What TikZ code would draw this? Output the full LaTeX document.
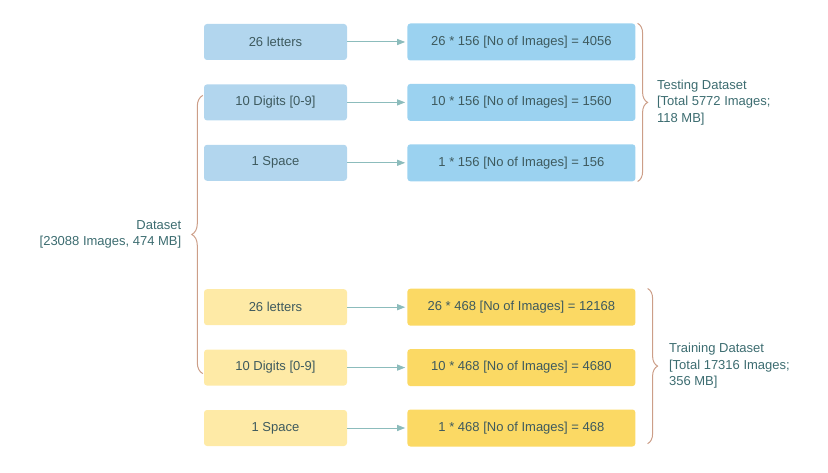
\documentclass[tikz,border=0pt]{standalone}
\usepackage{fontspec}
\setmainfont{Liberation Sans}
\usetikzlibrary{positioning, calc, arrows.meta, decorations.pathreplacing}
\definecolor{srcBlue}{RGB}{178,214,238}
\definecolor{cntBlue}{RGB}{155,210,240}
\definecolor{srcYel}{RGB}{254,234,166}
\definecolor{cntYel}{RGB}{251,217,100}
\definecolor{txtSlate}{RGB}{62,90,94}
\definecolor{lblTeal}{RGB}{60,108,112}
\definecolor{arrTeal}{RGB}{140,188,188}
\definecolor{braceTan}{RGB}{204,158,136}
\tikzset{
  srcBox/.style={rectangle, rounded corners=3pt, minimum width=143pt, minimum height=36pt, align=center, fill=srcBlue, text=txtSlate, font=\fontsize{13}{16}\selectfont, inner sep=2pt},
  cntBox/.style={rectangle, rounded corners=3pt, minimum width=228pt, minimum height=37pt, align=center, fill=cntBlue, text=txtSlate, font=\fontsize{13}{16}\selectfont, inner sep=2pt},
  dataArr/.style={line width=1pt, draw=arrTeal, -{Triangle[length=8pt,width=6pt]}, shorten >=2pt},
  dataBrace/.style={draw=braceTan, line width=1pt, decorate, decoration={brace, amplitude=10pt}},
  braceLbl/.style={align=left, text=lblTeal, font=\fontsize{13}{16.5}\selectfont, inner sep=0pt},
}

\begin{document}
\begin{tikzpicture}[node distance=24pt and 60pt]
\useasboundingbox (0,0) rectangle (828pt,-473pt);
\node (teLet) [srcBox] at (275.5pt,-42pt) {26 letters};
\node (teDig) [srcBox, below=of teLet] {10 Digits [0-9]};
\node (teSpc) [srcBox, below=of teDig] {1 Space};
\node (teLetN) [cntBox, right=of teLet] {26 * 156 [No of Images] = 4056};
\node (teDigN) [cntBox, right=of teDig] {10 * 156 [No of Images] = 1560};
\node (teSpcN) [cntBox, right=of teSpc] {1 * 156 [No of Images] = 156};

% Training part
\node (trLet) [srcBox, fill=srcYel, below=108pt of teSpc] {26 letters};
\node (trDig) [srcBox, fill=srcYel, below=of trLet] {10 Digits [0-9]};
\node (trSpc) [srcBox, fill=srcYel, below=of trDig] {1 Space};
\node (trLetN) [cntBox, fill=cntYel, right=of trLet] {26 * 468 [No of Images] = 12168};
\node (trDigN) [cntBox, fill=cntYel, right=of trDig] {10 * 468 [No of Images] = 4680};
\node (trSpcN) [cntBox, fill=cntYel, right=of trSpc] {1 * 468 [No of Images] = 468};

\draw [dataArr] (teLet) -- (teLetN);
\draw [dataArr] (teDig) -- (teDigN);
\draw [dataArr] (teSpc) -- (teSpcN);
\draw [dataArr] (trLet) -- (trLetN);
\draw [dataArr] (trDig) -- (trDigN);
\draw [dataArr] (trSpc) -- (trSpcN);

% Braces
\draw [dataBrace] ($(teLetN.north east)+(2pt,0)$) -- node (teLbl) [braceLbl, right=19pt] {Testing Dataset\\{}[Total 5772 Images;\\118 MB]} ($(teSpcN.south east)+(2pt,0)$);
\draw [dataBrace] ($(trLetN.north east)+(12pt,0)$) -- node (trLbl) [braceLbl, right=21pt] {Training Dataset\\{}[Total 17316 Images;\\356 MB]} ($(trSpcN.south east)+(12pt,3pt)$);
\draw [dataBrace, decoration={brace, amplitude=11pt}] ($(trDig.west)+(-1pt,-6pt)$) -- node (dsLbl) [braceLbl, align=right, left=21pt] {Dataset\\{}[23088 Images, 474 MB]} ($(teDig.west)+(-1pt,7pt)$);
\end{tikzpicture}
\end{document}
